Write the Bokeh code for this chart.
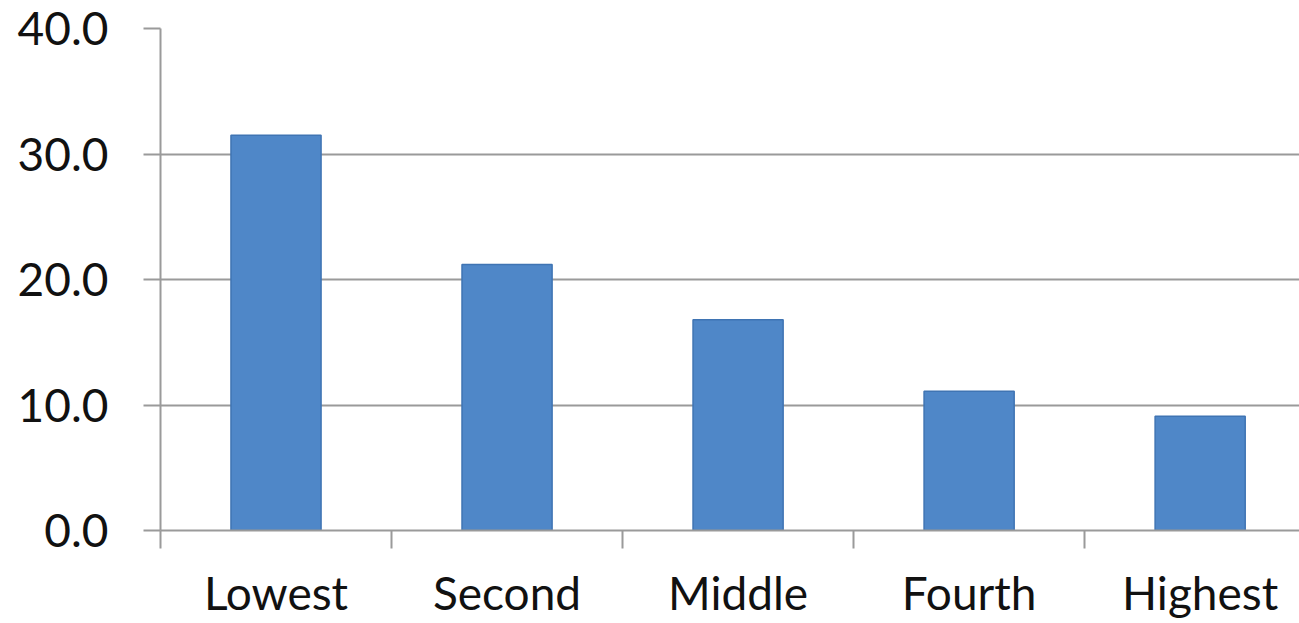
from bokeh.plotting import figure
from bokeh.models import Range1d, FixedTicker, NumeralTickFormatter, ColumnDataSource
from bokeh.embed import file_html
from bokeh.resources import INLINE

# Share by quintile
categories = ["Lowest", "Second", "Middle", "Fourth", "Highest"]
values = [31.5, 21.2, 16.8, 11.1, 9.1]
y_ticks = [0, 10, 20, 30, 40]

# numeric slots: bar centres at i + 0.5, slot boundaries at integers
centers = [i + 0.5 for i in range(len(categories))]
bounds = list(range(len(categories) + 1))

src = ColumnDataSource(dict(x=centers, value=values, cat=categories))

p = figure(width=1299, height=623, output_backend="svg", toolbar_location=None,
           x_range=Range1d(0, 4.93), y_range=Range1d(0, 40),
           min_border_left=160, min_border_right=0,
           min_border_top=28, min_border_bottom=93)
p.outline_line_color = None
p.background_fill_color = "white"
p.border_fill_color = "white"

p.vbar(x="x", top="value", width=0.39, source=src,
       fill_color="#4f87c8", line_color="#3f74b3", line_width=1.5)

grey = "#9a9a9a"
font = "Lato"

# y axis
p.yaxis.ticker = FixedTicker(ticks=y_ticks, minor_ticks=[])
p.yaxis.formatter = NumeralTickFormatter(format="0.0")
p.yaxis.axis_line_color = grey
p.yaxis.axis_line_width = 2
p.yaxis.major_tick_line_color = grey
p.yaxis.major_tick_line_width = 2
p.yaxis.major_tick_out = 17
p.yaxis.major_tick_in = 0
p.yaxis.minor_tick_line_color = None
p.yaxis.major_label_text_font = font
p.yaxis.major_label_text_font_size = "46px"
p.yaxis.major_label_text_color = "#111111"
p.yaxis.major_label_standoff = 35

# x axis
p.xaxis.ticker = FixedTicker(ticks=centers, minor_ticks=bounds)
p.xaxis.major_label_overrides = {c: name for c, name in zip(centers, categories)}
p.xaxis.axis_line_color = grey
p.xaxis.axis_line_width = 2
p.xaxis.major_tick_line_color = None
p.xaxis.major_tick_out = 0
p.xaxis.major_tick_in = 0
p.xaxis.minor_tick_line_color = grey
p.xaxis.minor_tick_line_width = 2
p.xaxis.minor_tick_out = 18
p.xaxis.minor_tick_in = 0
p.xaxis.major_label_text_font = font
p.xaxis.major_label_text_font_size = "46px"
p.xaxis.major_label_text_color = "#111111"
p.xaxis.major_label_standoff = 16

p.xgrid.grid_line_color = None
p.ygrid.ticker = FixedTicker(ticks=y_ticks)
p.ygrid.grid_line_color = grey
p.ygrid.grid_line_width = 2

open("out.html", "w").write(file_html(p, INLINE))
